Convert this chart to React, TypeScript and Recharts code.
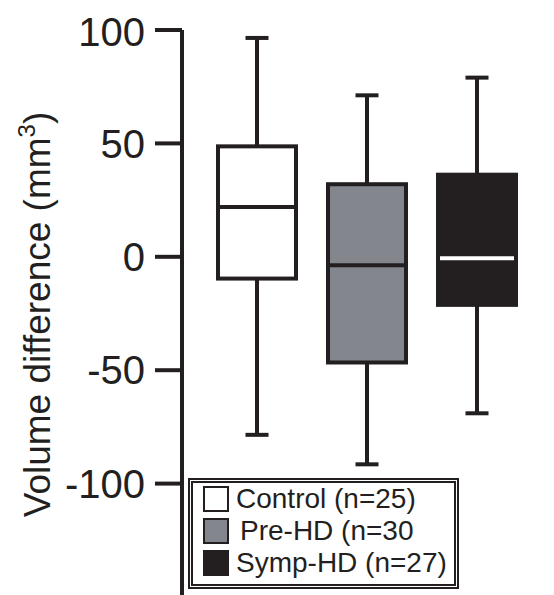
import React from 'react';
import { BarChart, Bar, XAxis, YAxis, Legend } from 'recharts';

const categories = ['Control (n=25)', 'Pre-HD (n=30', 'Symp-HD (n=27)'];
const mins = [-78.5, -91.5, -69];
const q1s = [-9.6, -46.6, -21.2];
const medians = [22, -3.7, -0.6];
const q3s = [48.7, 32, 36.2];
const maxs = [96.5, 71.2, 79];
const yTicks = [-100, -50, 0, 50, 100];

const FILLS = ['#ffffff', '#83868d', '#231f20'];
const MEDIAN_COLORS = ['#231f20', '#231f20', '#ffffff'];
const INK = '#231f20';
const FONT = '"Liberation Sans", Arial, sans-serif';

const data = categories.map((name, i) => ({
  name,
  range: [mins[i], maxs[i]],
  min: mins[i],
  q1: q1s[i],
  median: medians[i],
  q3: q3s[i],
  max: maxs[i],
  fill: FILLS[i],
  medianColor: MEDIAN_COLORS[i],
}));

const BoxShape = (props: any) => {
  const { x, y, width, height, payload } = props;
  const top = Math.min(y, y + height);
  const h = Math.abs(height);
  const { min, q1, median, q3, max, fill, medianColor } = payload;
  const py = (v: number) => top + ((max - v) / (max - min)) * h;
  const cx = x + width / 2;
  const cap = 11.5;
  const sw = 4;
  return (
    <g>
      <line x1={cx} x2={cx} y1={py(max)} y2={py(q3)} stroke={INK} strokeWidth={sw} />
      <line x1={cx} x2={cx} y1={py(q1)} y2={py(min)} stroke={INK} strokeWidth={sw} />
      <line x1={cx - cap} x2={cx + cap} y1={py(max)} y2={py(max)} stroke={INK} strokeWidth={sw} />
      <line x1={cx - cap} x2={cx + cap} y1={py(min)} y2={py(min)} stroke={INK} strokeWidth={sw} />
      <rect
        x={x + sw / 2}
        y={py(q3)}
        width={width - sw}
        height={py(q1) - py(q3)}
        fill={fill}
        stroke={INK}
        strokeWidth={sw}
      />
      <line
        x1={x + sw}
        x2={x + width - sw}
        y1={py(median)}
        y2={py(median)}
        stroke={medianColor}
        strokeWidth={sw}
      />
    </g>
  );
};

const renderYLabel = () => {
  const lx = 42;
  const ly = 306.5;
  return (
    <text
      x={lx}
      y={ly}
      transform={`rotate(-90, ${lx}, ${ly})`}
      textAnchor="middle"
      fontSize={37}
      fontFamily={FONT}
      fill={INK}
    >
      Volume difference (mm
      <tspan fontSize={24} dy={-15}>3</tspan>
      <tspan dy={15}>)</tspan>
    </text>
  );
};

const renderLegend = () => (
  <div
    style={{
      boxSizing: 'border-box',
      width: 271,
      height: 111,
      border: `5px double ${INK}`,
      background: '#fff',
      paddingLeft: 10,
      fontFamily: FONT,
      color: INK,
    }}
  >
    {categories.map((name, i) => (
      <div key={name} style={{ display: 'flex', alignItems: 'center', height: 32 }}>
        <div
          style={{
            boxSizing: 'border-box',
            width: 26,
            height: 26,
            background: FILLS[i],
            border: `2px solid ${INK}`,
            marginRight: i === 1 ? 11 : 7,
          }}
        />
        <span style={{ fontSize: 28, lineHeight: '32px', whiteSpace: 'nowrap' }}>{name}</span>
      </div>
    ))}
  </div>
);

export default function App() {
  return (
    <BarChart
      width={546}
      height={589}
      data={data}
      margin={{ top: 22, right: 22, bottom: 0, left: 0 }}
      barSize={82}
    >
      <XAxis dataKey="name" hide padding={{ left: 20, right: 0 }} />
      <YAxis
        width={174}
        domain={[-150, 100]}
        ticks={yTicks}
        allowDataOverflow
        tickSize={27}
        tickMargin={10}
        axisLine={{ stroke: INK, strokeWidth: 4 }}
        tickLine={{ stroke: INK, strokeWidth: 4 }}
        tick={{ fill: INK, fontSize: 40, fontFamily: FONT }}
        label={{ content: renderYLabel }}
      />
      <Legend
        layout="horizontal"
        verticalAlign="middle"
        align="center"
        content={renderLegend}
        wrapperStyle={{ left: 180, top: 470, width: 271, height: 111 }}
      />
      <Bar dataKey="range" shape={<BoxShape />} isAnimationActive={false} />
    </BarChart>
  );
}
